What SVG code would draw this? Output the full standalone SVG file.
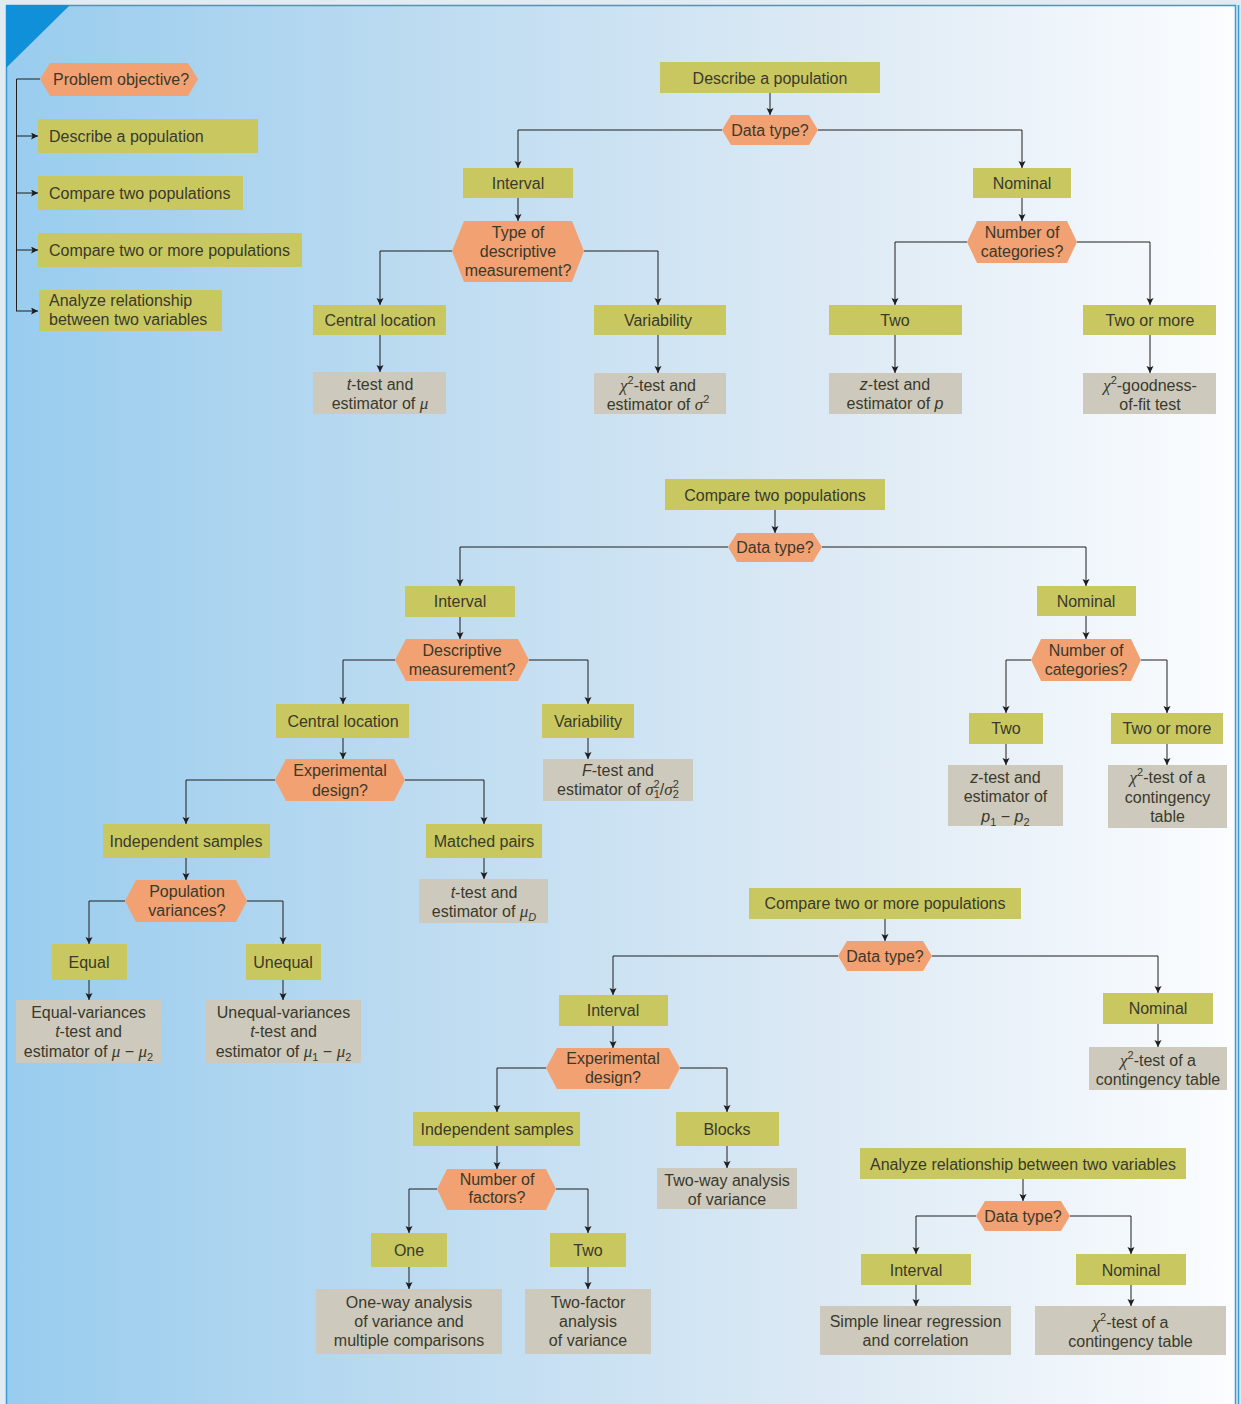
<svg xmlns="http://www.w3.org/2000/svg" width="1241" height="1404" viewBox="0 0 1241 1404">
<defs>
<linearGradient id="bg" x1="0" y1="0" x2="1" y2="0">
<stop offset="0" stop-color="#98ccee"/>
<stop offset="0.35" stop-color="#bedcf1"/>
<stop offset="0.7" stop-color="#dfebf5"/>
<stop offset="1" stop-color="#fbfdff"/>
</linearGradient>
<marker id="ah" markerUnits="userSpaceOnUse" markerWidth="8" markerHeight="8" refX="7" refY="3.5" orient="auto">
<path d="M0,0 L7,3.5 L0,7 L1.5,3.5 Z" fill="#1e1e1e"/>
</marker>
<style>
.g{fill:#c9c860}
.o{fill:#f2a172}
.r{fill:#cdcabd}
text{font-family:"Liberation Sans","Open Sans",Arial,sans-serif;font-size:16px;fill:#3a392b}
.c{text-anchor:middle}
.i{font-style:italic}
.m{font-family:"Liberation Serif","DejaVu Serif",serif;font-style:italic;font-size:17px}
.s{font-size:11px}
#connectors path{fill:none;stroke:#1e1e1e;stroke-width:1;marker-end:url(#ah)}
#connectors path.n{marker-end:none}
</style>
</defs>
<rect x="0" y="0" width="1241" height="1404" fill="#e2eaf2"/>
<rect x="6.5" y="5.5" width="1229" height="1402" fill="url(#bg)" stroke="#3a9ad6" stroke-width="1.5"/>
<line x1="1238.5" y1="5" x2="1238.5" y2="1404" stroke="#3a9ad6" stroke-width="1.5"/>
<polygon points="6,5 70,5 6,68" fill="#1090d8"/>

<g id="connectors">
<path class="n" d="M40,79 H16.5 V311"/>
<path d="M16,311 H38"/>
<path d="M16,136 H38"/>
<path d="M16,193 H38"/>
<path d="M16,250 H38"/>

<path d="M770,93 V115"/>
<path d="M722,130 H518 V168"/>
<path d="M818,130 H1022 V168"/>
<path d="M518,198 V221"/>
<path d="M452,251 H380 V305"/>
<path d="M584,251 H658 V305"/>
<path d="M380,335 V372"/>
<path d="M658,335 V373"/>
<path d="M1022,198 V221"/>
<path d="M967,242 H895 V305"/>
<path d="M1077,242 H1150 V305"/>
<path d="M895,335 V373"/>
<path d="M1150,335 V373"/>

<path d="M775,510 V533"/>
<path d="M728,547 H460 V586"/>
<path d="M822,547 H1086 V586"/>
<path d="M460,617 V639"/>
<path d="M395,660 H343 V704"/>
<path d="M529,660 H588 V704"/>
<path d="M343,738 V759"/>
<path d="M588,738 V759"/>
<path d="M275,780 H186 V824"/>
<path d="M405,780 H484 V824"/>
<path d="M484,858 V879"/>
<path d="M186,858 V880"/>
<path d="M125,901 H89 V944"/>
<path d="M247,901 H283 V944"/>
<path d="M89,980 V1000"/>
<path d="M283,980 V1000"/>
<path d="M1086,616 V639"/>
<path d="M1031,660 H1006 V713"/>
<path d="M1141,660 H1167 V713"/>
<path d="M1006,744 V765"/>
<path d="M1167,744 V765"/>

<path d="M885,919 V941"/>
<path d="M838,956 H613 V995"/>
<path d="M932,956 H1158 V993"/>
<path d="M613,1026 V1048"/>
<path d="M546,1068 H497 V1112"/>
<path d="M680,1068 H727 V1112"/>
<path d="M727,1146 V1168"/>
<path d="M497,1146 V1169"/>
<path d="M437,1189 H409 V1233"/>
<path d="M556,1189 H588 V1233"/>
<path d="M409,1267 V1289"/>
<path d="M588,1267 V1289"/>
<path d="M1158,1024 V1047"/>

<path d="M1023,1179 V1201"/>
<path d="M976,1216 H916 V1254"/>
<path d="M1070,1216 H1131 V1254"/>
<path d="M916,1285 V1306"/>
<path d="M1131,1285 V1306"/>
</g>

<!-- Legend -->
<g id="problem-objective"><path class="o" d="M40,79 L50,63 H188 L198,79 L188,96 H50 Z"/><text x="53" y="85">Problem objective?</text></g>
<g id="leg-describe"><rect class="g" x="38" y="119" width="220" height="34"/><text x="49" y="142">Describe a population</text></g>
<g id="leg-compare2"><rect class="g" x="38" y="176" width="205" height="34"/><text x="49" y="199">Compare two populations</text></g>
<g id="leg-compare2more"><rect class="g" x="38" y="233" width="264" height="34"/><text x="49" y="256">Compare two or more populations</text></g>
<g id="leg-analyze"><rect class="g" x="39" y="290" width="183" height="41"/><text x="49" y="306">Analyze relationship</text><text x="49" y="325">between two variables</text></g>

<!-- Section 1 -->
<g id="s1-root"><rect class="g" x="660" y="62" width="220" height="31"/><text class="c" x="770" y="84">Describe a population</text></g>
<g id="s1-datatype"><path class="o" d="M722,130 L731,115 H809 L818,130 L809,145 H731 Z"/><text class="c" x="770" y="136">Data type?</text></g>
<g id="s1-interval"><rect class="g" x="463" y="168" width="110" height="30"/><text class="c" x="518" y="189">Interval</text></g>
<g id="s1-typedesc"><path class="o" d="M452,251 L464,221 H572 L584,251 L572,282 H464 Z"/><text class="c" x="518" y="238">Type of</text><text class="c" x="518" y="257">descriptive</text><text class="c" x="518" y="276">measurement?</text></g>
<g id="s1-central"><rect class="g" x="313" y="305" width="133" height="30"/><text class="c" x="380" y="326">Central location</text></g>
<g id="s1-variability"><rect class="g" x="594" y="305" width="132" height="30"/><text class="c" x="658" y="326">Variability</text></g>
<g id="s1-ttest"><rect class="r" x="313" y="372" width="133" height="42"/><text class="c" x="380" y="390"><tspan class="i">t</tspan>-test and</text><text class="c" x="380" y="409">estimator of <tspan class="m">μ</tspan></text></g>
<g id="s1-chitest"><rect class="r" x="594" y="373" width="132" height="41"/><text class="c" x="658" y="391"><tspan class="m">χ</tspan><tspan class="s" dy="-7">2</tspan><tspan dy="7">-test and</tspan></text><text class="c" x="658" y="410">estimator of <tspan class="m">σ</tspan><tspan class="s" dy="-7">2</tspan></text></g>
<g id="s1-nominal"><rect class="g" x="973" y="168" width="98" height="30"/><text class="c" x="1022" y="189">Nominal</text></g>
<g id="s1-numcat"><path class="o" d="M967,242 L977,221 H1067 L1077,242 L1067,263 H977 Z"/><text class="c" x="1022" y="238">Number of</text><text class="c" x="1022" y="257">categories?</text></g>
<g id="s1-two"><rect class="g" x="829" y="305" width="133" height="30"/><text class="c" x="895" y="326">Two</text></g>
<g id="s1-twomore"><rect class="g" x="1083" y="305" width="133" height="30"/><text class="c" x="1150" y="326">Two or more</text></g>
<g id="s1-ztest"><rect class="r" x="829" y="373" width="133" height="41"/><text class="c" x="895" y="390"><tspan class="i">z</tspan>-test and</text><text class="c" x="895" y="409">estimator of <tspan class="i">p</tspan></text></g>
<g id="s1-gof"><rect class="r" x="1083" y="373" width="133" height="41"/><text class="c" x="1150" y="391"><tspan class="m">χ</tspan><tspan class="s" dy="-7">2</tspan><tspan dy="7">-goodness-</tspan></text><text class="c" x="1150" y="410">of-fit test</text></g>

<!-- Section 2 -->
<g id="s2-root"><rect class="g" x="665" y="479" width="220" height="31"/><text class="c" x="775" y="501">Compare two populations</text></g>
<g id="s2-datatype"><path class="o" d="M728,547 L737,533 H813 L822,547 L813,562 H737 Z"/><text class="c" x="775" y="553">Data type?</text></g>
<g id="s2-interval"><rect class="g" x="405" y="586" width="110" height="31"/><text class="c" x="460" y="607">Interval</text></g>
<g id="s2-desc"><path class="o" d="M395,660 L406,639 H518 L529,660 L518,681 H406 Z"/><text class="c" x="462" y="656">Descriptive</text><text class="c" x="462" y="675">measurement?</text></g>
<g id="s2-central"><rect class="g" x="276" y="704" width="133" height="34"/><text class="c" x="343" y="727">Central location</text></g>
<g id="s2-variability"><rect class="g" x="542" y="704" width="92" height="34"/><text class="c" x="588" y="727">Variability</text></g>
<g id="s2-ftest"><rect class="r" x="543" y="759" width="150" height="42"/><text class="c" x="618" y="776"><tspan class="i">F</tspan>-test and</text><text class="c" x="618" y="795">estimator of <tspan class="m">σ</tspan><tspan class="s" dy="-7">2</tspan><tspan class="s" dx="-6" dy="10">1</tspan><tspan dy="-3">/</tspan><tspan class="m">σ</tspan><tspan class="s" dy="-7">2</tspan><tspan class="s" dx="-6" dy="10">2</tspan></text></g>
<g id="s2-expdesign"><path class="o" d="M275,780 L286,759 H394 L405,780 L394,801 H286 Z"/><text class="c" x="340" y="776">Experimental</text><text class="c" x="340" y="796">design?</text></g>
<g id="s2-indep"><rect class="g" x="103" y="824" width="167" height="34"/><text class="c" x="186" y="847">Independent samples</text></g>
<g id="s2-matched"><rect class="g" x="426" y="824" width="116" height="34"/><text class="c" x="484" y="847">Matched pairs</text></g>
<g id="s2-ttestD"><rect class="r" x="419" y="879" width="129" height="44"/><text class="c" x="484" y="898"><tspan class="i">t</tspan>-test and</text><text class="c" x="484" y="917">estimator of <tspan class="m">μ</tspan><tspan class="s i" dy="4">D</tspan></text></g>
<g id="s2-popvar"><path class="o" d="M125,901 L136,880 H236 L247,901 L236,922 H136 Z"/><text class="c" x="187" y="897">Population</text><text class="c" x="187" y="916">variances?</text></g>
<g id="s2-equal"><rect class="g" x="52" y="944" width="75" height="36"/><text class="c" x="89" y="968">Equal</text></g>
<g id="s2-unequal"><rect class="g" x="246" y="944" width="75" height="36"/><text class="c" x="283" y="968">Unequal</text></g>
<g id="s2-eqvar"><rect class="r" x="16" y="1000" width="145" height="63"/><text class="c" x="88.5" y="1018">Equal-variances</text><text class="c" x="88.5" y="1037"><tspan class="i">t</tspan>-test and</text><text class="c" x="88.5" y="1057">estimator of <tspan class="m">μ</tspan> − <tspan class="m">μ</tspan><tspan class="s" dy="4">2</tspan></text></g>
<g id="s2-uneqvar"><rect class="r" x="206" y="1000" width="155" height="63"/><text class="c" x="283.5" y="1018">Unequal-variances</text><text class="c" x="283.5" y="1037"><tspan class="i">t</tspan>-test and</text><text class="c" x="283.5" y="1057">estimator of <tspan class="m">μ</tspan><tspan class="s" dy="4">1</tspan><tspan dy="-4"> − </tspan><tspan class="m">μ</tspan><tspan class="s" dy="4">2</tspan></text></g>
<g id="s2-nominal"><rect class="g" x="1037" y="586" width="99" height="30"/><text class="c" x="1086" y="607">Nominal</text></g>
<g id="s2-numcat"><path class="o" d="M1031,660 L1041,639 H1131 L1141,660 L1131,681 H1041 Z"/><text class="c" x="1086" y="656">Number of</text><text class="c" x="1086" y="675">categories?</text></g>
<g id="s2-two"><rect class="g" x="969" y="713" width="74" height="31"/><text class="c" x="1006" y="734">Two</text></g>
<g id="s2-twomore"><rect class="g" x="1111" y="713" width="112" height="31"/><text class="c" x="1167" y="734">Two or more</text></g>
<g id="s2-ztest"><rect class="r" x="948" y="765" width="115" height="61"/><text class="c" x="1005.5" y="783"><tspan class="i">z</tspan>-test and</text><text class="c" x="1005.5" y="802">estimator of</text><text class="c" x="1005.5" y="822"><tspan class="i">p</tspan><tspan class="s" dy="4">1</tspan><tspan dy="-4"> − </tspan><tspan class="i">p</tspan><tspan class="s" dy="4">2</tspan></text></g>
<g id="s2-chitable"><rect class="r" x="1108" y="765" width="119" height="63"/><text class="c" x="1167.5" y="783"><tspan class="m">χ</tspan><tspan class="s" dy="-7">2</tspan><tspan dy="7">-test of a</tspan></text><text class="c" x="1167.5" y="803">contingency</text><text class="c" x="1167.5" y="822">table</text></g>

<!-- Section 3 -->
<g id="s3-root"><rect class="g" x="749" y="888" width="272" height="31"/><text class="c" x="885" y="909">Compare two or more populations</text></g>
<g id="s3-datatype"><path class="o" d="M838,956 L847,941 H923 L932,956 L923,971 H847 Z"/><text class="c" x="885" y="962">Data type?</text></g>
<g id="s3-interval"><rect class="g" x="559" y="995" width="109" height="31"/><text class="c" x="613" y="1016">Interval</text></g>
<g id="s3-expdesign"><path class="o" d="M546,1068 L557,1048 H669 L680,1068 L669,1089 H557 Z"/><text class="c" x="613" y="1064">Experimental</text><text class="c" x="613" y="1083">design?</text></g>
<g id="s3-indep"><rect class="g" x="413" y="1112" width="167" height="34"/><text class="c" x="497" y="1135">Independent samples</text></g>
<g id="s3-blocks"><rect class="g" x="676" y="1112" width="103" height="34"/><text class="c" x="727" y="1135">Blocks</text></g>
<g id="s3-twoway"><rect class="r" x="657" y="1168" width="140" height="41"/><text class="c" x="727" y="1186">Two-way analysis</text><text class="c" x="727" y="1205">of variance</text></g>
<g id="s3-numfac"><path class="o" d="M437,1189 L447,1169 H546 L556,1189 L546,1210 H447 Z"/><text class="c" x="497" y="1185">Number of</text><text class="c" x="497" y="1203">factors?</text></g>
<g id="s3-one"><rect class="g" x="371" y="1233" width="76" height="34"/><text class="c" x="409" y="1256">One</text></g>
<g id="s3-two"><rect class="g" x="550" y="1233" width="76" height="34"/><text class="c" x="588" y="1256">Two</text></g>
<g id="s3-oneway"><rect class="r" x="316" y="1289" width="186" height="65"/><text class="c" x="409" y="1308">One-way analysis</text><text class="c" x="409" y="1327">of variance and</text><text class="c" x="409" y="1346">multiple comparisons</text></g>
<g id="s3-twofactor"><rect class="r" x="525" y="1289" width="126" height="65"/><text class="c" x="588" y="1308">Two-factor</text><text class="c" x="588" y="1327">analysis</text><text class="c" x="588" y="1346">of variance</text></g>
<g id="s3-nominal"><rect class="g" x="1103" y="993" width="110" height="31"/><text class="c" x="1158" y="1014">Nominal</text></g>
<g id="s3-chitable"><rect class="r" x="1089" y="1047" width="138" height="43"/><text class="c" x="1158" y="1066"><tspan class="m">χ</tspan><tspan class="s" dy="-7">2</tspan><tspan dy="7">-test of a</tspan></text><text class="c" x="1158" y="1085">contingency table</text></g>

<!-- Section 4 -->
<g id="s4-root"><rect class="g" x="860" y="1148" width="326" height="31"/><text class="c" x="1023" y="1170">Analyze relationship between two variables</text></g>
<g id="s4-datatype"><path class="o" d="M976,1216 L985,1201 H1061 L1070,1216 L1061,1231 H985 Z"/><text class="c" x="1023" y="1222">Data type?</text></g>
<g id="s4-interval"><rect class="g" x="861" y="1254" width="110" height="31"/><text class="c" x="916" y="1276">Interval</text></g>
<g id="s4-nominal"><rect class="g" x="1076" y="1254" width="110" height="31"/><text class="c" x="1131" y="1276">Nominal</text></g>
<g id="s4-regression"><rect class="r" x="820" y="1306" width="191" height="49"/><text class="c" x="915.5" y="1327">Simple linear regression</text><text class="c" x="915.5" y="1346">and correlation</text></g>
<g id="s4-chitable"><rect class="r" x="1035" y="1306" width="191" height="49"/><text class="c" x="1130.5" y="1328"><tspan class="m">χ</tspan><tspan class="s" dy="-7">2</tspan><tspan dy="7">-test of a</tspan></text><text class="c" x="1130.5" y="1347">contingency table</text></g>
</svg>
